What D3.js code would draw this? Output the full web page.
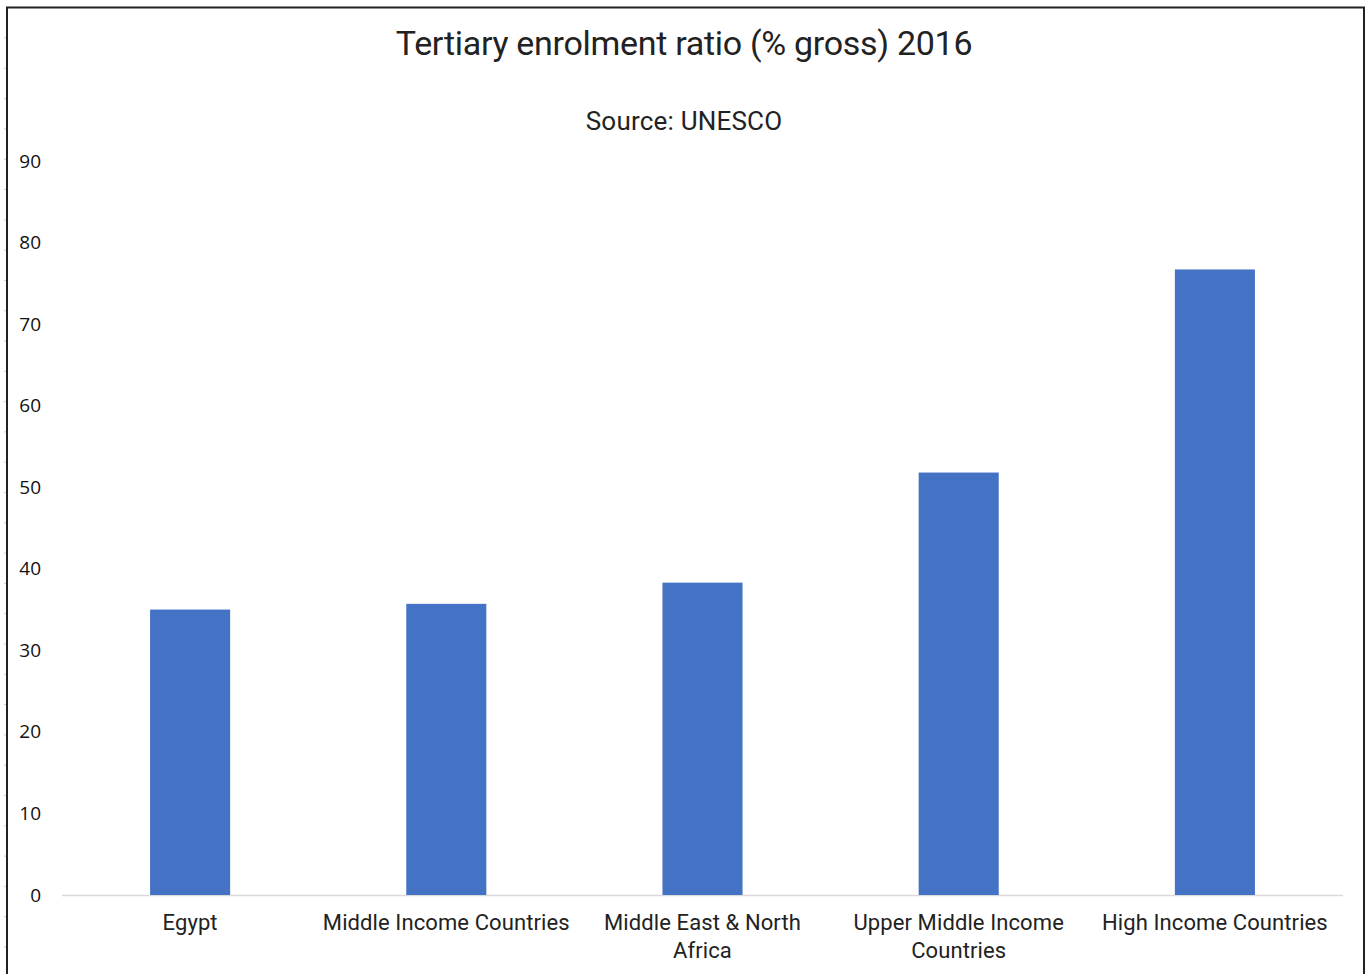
<!DOCTYPE html>
<html>
<head>
<meta charset="utf-8">
<script src="https://cdn.jsdelivr.net/npm/d3@7"></script>
<style>
  body { margin: 0; background: #fff; }
  svg { display: block; }
</style>
</head>
<body>
<div id="chart"></div>
<script>
// chart data
const categories = ["Egypt", "Middle Income Countries", "Middle East & North Africa", "Upper Middle Income Countries", "High Income Countries"];
const labelLines = [["Egypt"], ["Middle Income Countries"], ["Middle East & North", "Africa"], ["Upper Middle Income", "Countries"], ["High Income Countries"]];
const values = [35.0, 35.7, 38.3, 51.8, 76.7];
const yTicks = [0, 10, 20, 30, 40, 50, 60, 70, 80, 90];
const titleText = "Tertiary enrolment ratio (% gross) 2016";
const subtitleText = "Source: UNESCO";

const width = 1371, height = 974;
const margin = {top: 161, right: 28, bottom: 79, left: 62};

const svg = d3.select("#chart").append("svg")
  .attr("width", width)
  .attr("height", height);

// frame of the chart area (screenshot edge)
svg.append("path")
  .attr("d", `M7,${height} V7.5 H1364 V${height}`)
  .attr("fill", "none")
  .attr("stroke", "#222")
  .attr("stroke-width", 2);

// faint row marks left of the frame
svg.append("g").selectAll("line")
  .data(d3.range(38, height, 30.3))
  .enter().append("line")
    .attr("x1", 4).attr("x2", 6)
    .attr("y1", d => d).attr("y2", d => d)
    .attr("stroke", "#ccc");

// x: bands, y: linear 0..90
const x = d3.scaleBand()
  .domain(categories)
  .range([margin.left, width - margin.right])
  .paddingInner(0.6875)
  .paddingOuter(0.34375);

const y = d3.scaleLinear()
  .domain([0, 90])
  .range([height - margin.bottom, margin.top]);

// titles
svg.append("text")
  .attr("x", 684).attr("y", 55)
  .attr("text-anchor", "middle")
  .style("font-family", "Roboto, sans-serif")
  .style("font-size", "34px")
  .style("letter-spacing", "-0.3px")
  .attr("fill", "#222")
  .text(titleText);

svg.append("text")
  .attr("x", 684).attr("y", 130)
  .attr("text-anchor", "middle")
  .style("font-family", "Roboto, sans-serif")
  .style("font-size", "26px")
  .style("letter-spacing", "0.2px")
  .attr("fill", "#222")
  .text(subtitleText);

// y axis: labels only
const yAxis = svg.append("g")
  .attr("transform", `translate(41,0)`)
  .call(d3.axisLeft(y).tickValues(yTicks).tickSize(0).tickPadding(0));
yAxis.select(".domain").remove();
yAxis.selectAll("text")
  .style("font-family", "'Open Sans', sans-serif")
  .style("font-size", "19px")
  .attr("fill", "#111");

// baseline
svg.append("line")
  .attr("x1", margin.left).attr("x2", width - margin.right)
  .attr("y1", y(0) + 0.5).attr("y2", y(0) + 0.5)
  .attr("stroke", "#d9d9d9")
  .attr("stroke-width", 1.5);

// bars
svg.append("g").selectAll("rect")
  .data(values)
  .enter().append("rect")
    .attr("x", (d, i) => x(categories[i]))
    .attr("y", d => y(d))
    .attr("width", x.bandwidth())
    .attr("height", d => y(0) - y(d))
    .attr("fill", "#4472C4");

// x labels, wrapped as in the original
const xl = svg.append("g").selectAll("text")
  .data(categories)
  .enter().append("text")
    .attr("x", d => x(d) + x.bandwidth() / 2)
    .attr("y", 930)
    .attr("text-anchor", "middle")
    .style("font-family", "Roboto, sans-serif")
    .style("font-size", "22px")
    .style("letter-spacing", "0.1px")
    .attr("fill", "#222");

xl.each(function(d, i) {
  d3.select(this).selectAll("tspan")
    .data(labelLines[i])
    .enter().append("tspan")
      .attr("x", x(d) + x.bandwidth() / 2)
      .attr("dy", (t, j) => j === 0 ? 0 : 28)
      .text(t => t);
});
</script>
</body>
</html>
